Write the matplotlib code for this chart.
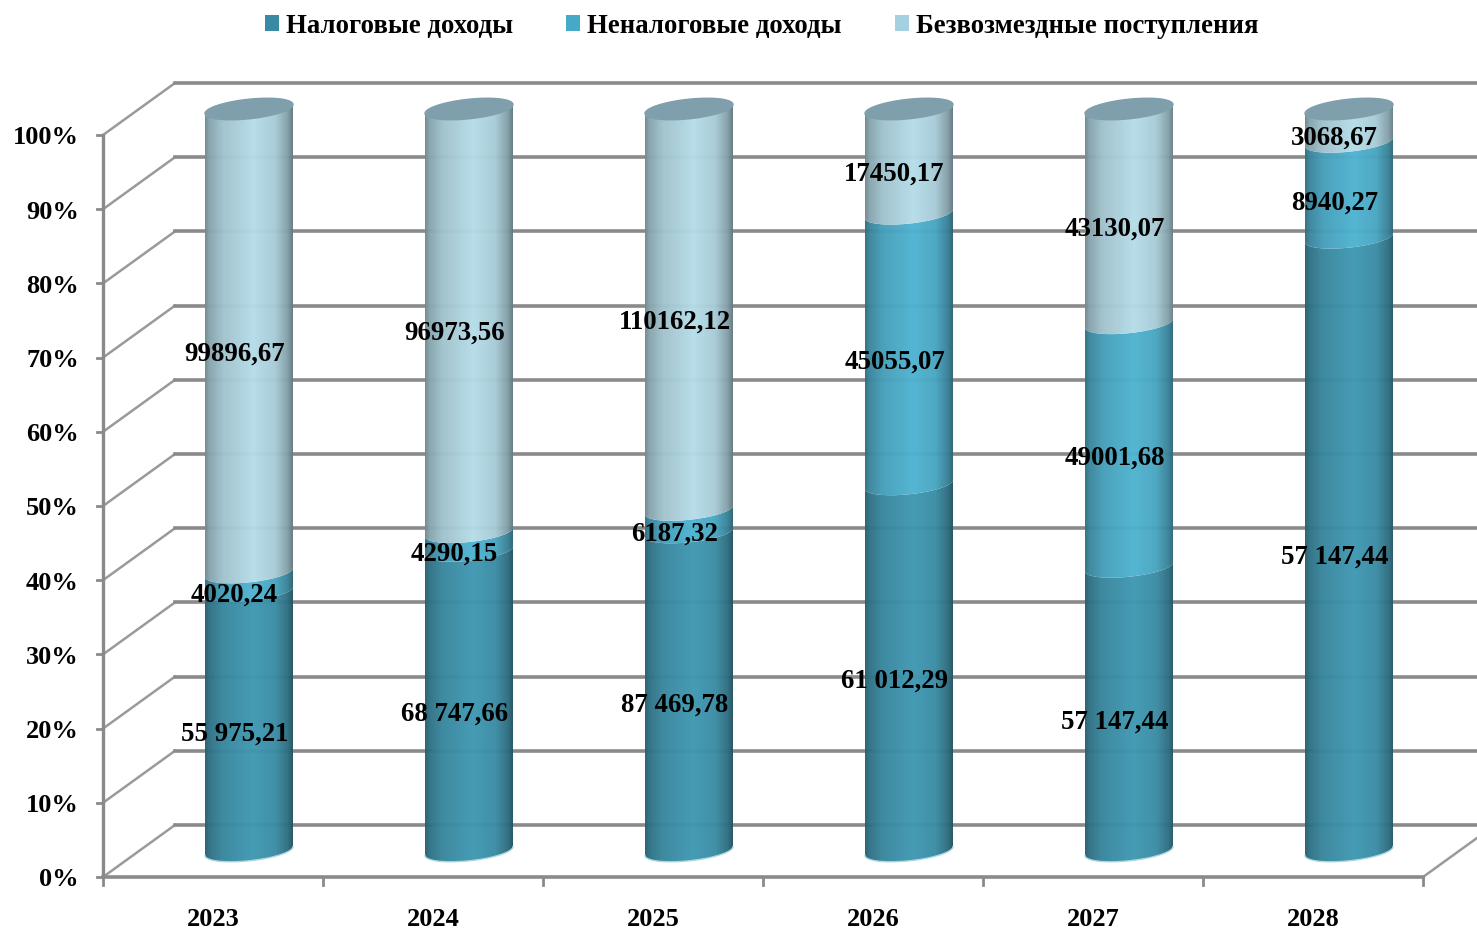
import numpy as np
import matplotlib
matplotlib.use("Agg")
import matplotlib.pyplot as plt
from matplotlib.patches import Patch, Polygon

plt.rcParams["font.family"] = ["Liberation Serif", "DejaVu Serif"]
plt.rcParams["font.weight"] = "bold"

years = ["2023", "2024", "2025", "2026", "2027", "2028"]
tax = [55975.21, 68747.66, 87469.78, 61012.29, 57147.44, 57147.44]
nontax = [4020.24, 4290.15, 6187.32, 45055.07, 49001.68, 8940.27]
grants = [99896.67, 96973.56, 110162.12, 17450.17, 43130.07, 3068.67]

series_names = ["Налоговые доходы", "Неналоговые доходы", "Безвозмездные поступления"]
series_colors = ["#4099b3", "#4fb4d2", "#b6dde9"]
legend_colors = ["#3a8aa3", "#46a9c8", "#a5d0e0"]

percent_ticks = list(range(0, 101, 10))

# 3d look: depth of the floor in axis units
depth_x = 72 / 220
depth_y = 52 / 7.42
bar_half = 0.2
arc_b = 1.32
arc_tilt = 0.6
grid_col = "#8a8a8a"


def fmt(v, sep=""):
    s = f"{v:,.2f}".replace(",", sep).replace(".", ",")
    return s


def arc(cx, cy, t):
    return cx + bar_half * np.cos(t), cy + arc_b * np.sin(t) + arc_tilt * np.cos(t)


def shaded(color):
    rgb = np.array(matplotlib.colors.to_rgb(color))
    pos = np.linspace(0, 1, 200)
    k = np.interp(pos, [0, 0.05, 0.2, 0.55, 0.8, 0.94, 1], [0.62, 0.74, 0.88, 1.0, 0.92, 0.72, 0.55])
    return (rgb[None, None, :] * k[None, :, None]).clip(0, 1)


fig = plt.figure(figsize=(14.77, 9.31), dpi=100)
ax = fig.add_axes([103 / 1477, 54 / 931, 1320 / 1477, 742 / 931])
ax.set_xlim(0, 6)
ax.set_ylim(0, 100)
ax.axis("off")

# walls
for p in percent_ticks:
    ax.plot([0, depth_x], [p, p + depth_y], color="#9a9a9a", lw=1.8, clip_on=False, zorder=1)
    ax.plot([depth_x, 6.5], [p + depth_y, p + depth_y], color=grid_col, lw=2.6, clip_on=False, zorder=1)
    ax.plot([-0.027, 0], [p, p], color=grid_col, lw=2, clip_on=False, zorder=1)
    ax.text(-0.11, p - 0.4, f"{p}%", ha="right", va="center", fontsize=19, clip_on=False)
ax.plot([0, 0], [0, 100], color=grid_col, lw=2.4, clip_on=False, zorder=1)
ax.plot([0, 6], [0, 0], color=grid_col, lw=2.6, clip_on=False, zorder=1)
ax.plot([6, 6 + depth_x], [0, depth_y], color="#9a9a9a", lw=1.8, clip_on=False, zorder=1)
for i in range(7):
    ax.plot([i, i], [0, -1.05], color=grid_col, lw=2, clip_on=False, zorder=1)

t_front = np.linspace(np.pi, 2 * np.pi, 80)
for i, year in enumerate(years):
    ax.text(i + 0.5, -5.7, year, ha="center", va="center", fontsize=19)
    vals = [tax[i], nontax[i], grants[i]]
    total = sum(vals)
    cx = i + 0.5 + depth_x / 2
    base = depth_y / 2
    bottom = 0
    for j, v in enumerate(vals):
        share = v / total * 100
        x0, y0 = arc(cx, base + bottom, t_front)
        x1, y1 = arc(cx, base + bottom + share, t_front)
        pts = np.column_stack([np.r_[x0, x1[::-1]], np.r_[y0, y1[::-1]]])
        im = ax.imshow(shaded(series_colors[j]), extent=[cx - bar_half, cx + bar_half, -5, 115],
                       aspect="auto", zorder=2, alpha=0.97)
        poly = Polygon(pts, closed=True, transform=ax.transData, fc="none", ec="none", clip_on=False)
        ax.add_patch(poly)
        im.set_clip_box(fig.bbox)
        im.set_clip_path(poly)
        label = fmt(v, " ") if j == 0 else fmt(v)
        ax.text(cx - depth_x / 2 * 0.42 + 0.003, base + bottom + share / 2 - depth_y / 2 * 0.33 - 0.6, label,
                ha="center", va="center", fontsize=19.4, zorder=5, clip_on=False)
        bottom += share
    # cap and base rim
    t_all = np.linspace(0, 2 * np.pi, 120)
    xc, yc = arc(cx, base + 100, t_all)
    ax.fill(xc, yc, color="#7f9fac", zorder=3, clip_on=False)
    xb, yb = arc(cx, base, t_front)
    ax.plot(xb, yb, color="#a8d6e4", lw=1.0, zorder=3, clip_on=False)

ax.set_xlim(0, 6)
ax.set_ylim(0, 100)

handles = [Patch(fc=c, ec="none") for c in legend_colors]
fig.legend(handles, series_names, loc="upper left", bbox_to_anchor=(246 / 1477, 1 + 5 / 931), ncol=3,
           frameon=False, fontsize=19.3, handlelength=0.52, handleheight=0.52, handletextpad=0.27,
           columnspacing=1.98, borderpad=0.2)

fig.savefig("out.png", dpi=100)
